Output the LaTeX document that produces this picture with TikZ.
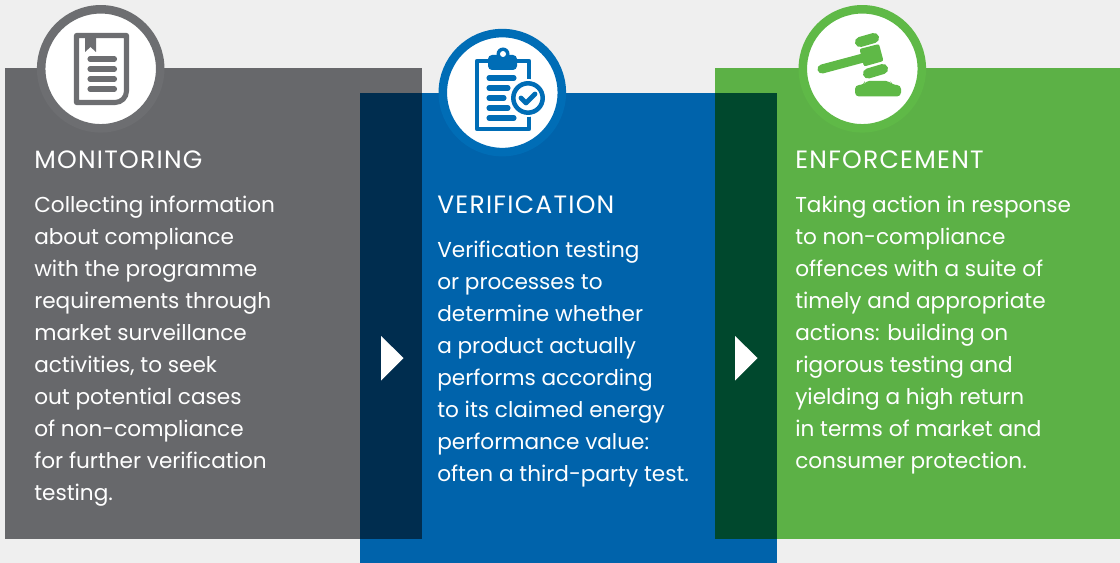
\documentclass[tikz,border=0pt]{standalone}
\usepackage{fontspec}
\setmainfont{Poppins}
\newfontfamily\headfont[LetterSpace=5]{Poppins}
\definecolor{bgc}{HTML}{EFEFEF}
\definecolor{grayp}{HTML}{67686B}
\definecolor{grayr}{HTML}{6D6E71}
\definecolor{bluep}{HTML}{0063AB}
\definecolor{bluer}{HTML}{006DB6}
\definecolor{greenp}{HTML}{5CB146}
\definecolor{greenr}{HTML}{5FB947}
\definecolor{navy}{HTML}{002D4F}
\definecolor{dkgreen}{HTML}{00482D}
\tikzset{
  x=0.75pt,y=-0.75pt,
  head/.style={anchor=base west,inner sep=0pt,text=white,font=\headfont\fontsize{18.8pt}{20pt}\selectfont},
  body/.style={anchor=north west,inner sep=0pt,text=white,align=left,font=\fontsize{16.2pt}{24pt}\selectfont},
  ring/.style={circle,minimum size=89.25pt,inner sep=0pt,fill=white,line width=6.4pt},
  ic/.style={line width=#1,line cap=round,line join=round},
}
\begin{document}
\begin{tikzpicture}
\useasboundingbox (0,0) rectangle (1120,563);
\fill[bgc] (0,0) rectangle (1120,563);
\fill[grayp] (5,68) rectangle (422,539);
\fill[bluep] (360,93) rectangle (777,563);
\fill[greenp] (715,68) rectangle (1120,539);
\fill[navy] (360,93) rectangle (422,539);
\fill[dkgreen] (715,93) rectangle (777,539);
\node[ring,draw=grayr] (c1) at (100.7,68.8) {};
\node[ring,draw=bluer] (c2) at (502.3,92.6) {};
\node[ring,draw=greenr] (c3) at (862.3,68.8) {};
% document icon
\draw[ic=3.8pt,grayr] (76.5,35.5) -- (126.5,35.5) -- (126.5,91) arc[start angle=0,end angle=90,radius=11.5] -- (76.5,102.5) -- cycle;
\fill[grayr] (85,35) -- (96,35) -- (96,52) -- (90.5,47) -- (85,52) -- cycle;
\foreach \yy in {59,69,79,89} \draw[ic=3.8pt,grayr] (90,\yy) -- (114.5,\yy);
% clipboard icon
\draw[ic=3.5pt,bluer] (477,61) rectangle (529,129);
\fill[bluer,rounded corners=3pt] (488,55) rectangle (517,70);
\fill[bluer] (503,54) circle[radius=6.5];
\fill[white] (503,54) circle[radius=3];
\foreach \yy/\xe in {78/514,88/508,98/504,108/508,118/514} \draw[ic=3.8pt,bluer] (489,\yy) -- (\xe,\yy);
\fill[white] (528,98) circle[radius=19];
\draw[bluer,line width=3.4pt] (528,98) circle[radius=14.7];
\draw[ic=3.6pt,bluer] (521,98) -- (526,103) -- (535,94);
% gavel icon
\draw[ic=6.8pt,greenr] (822,69) -- (865,57.5);
\fill[greenr,rounded corners=1.5pt] (859.5,49) -- (879,44) -- (883.5,61) -- (864,66.5) -- cycle;
\draw[ic=7.6pt,greenr] (860,42) -- (874,38);
\draw[ic=7.6pt,greenr] (868,73.5) -- (883,69);
\fill[greenr,rounded corners=3pt] (855,96.5) -- (855,85) -- (864,85) -- (865,81) -- (890,81) -- (892,85) -- (901,85) -- (901,96.5) -- cycle;
% arrows
\fill[white] (381,336) -- (403.5,358) -- (381,380.5) -- cycle;
\fill[white] (735,336) -- (757.5,358) -- (735,380.5) -- cycle;
% text
\node[head] (h1) at (34,168) {MONITORING};
\node[body] (b1) at (34,195.5) {Collecting information\\about compliance\\with the programme\\requirements through\\market surveillance\\activities, to seek\\out potential cases\\of non-compliance\\for further verification\\testing.};
\node[head] (h2) at (437,213) {VERIFICATION};
\node[body] (b2) at (437,240.5) {Verification testing\\or processes to\\determine whether\\a product actually\\performs according\\to its claimed energy\\performance value:\\often a third-party test.};
\node[head] (h3) at (795,168) {ENFORCEMENT};
\node[body] (b3) at (795,195.5) {Taking action in response\\to non-compliance\\offences with a suite of\\timely and appropriate\\actions: building on\\rigorous testing and\\yielding a high return\\in terms of market and\\consumer protection.};
\end{tikzpicture}
\end{document}
